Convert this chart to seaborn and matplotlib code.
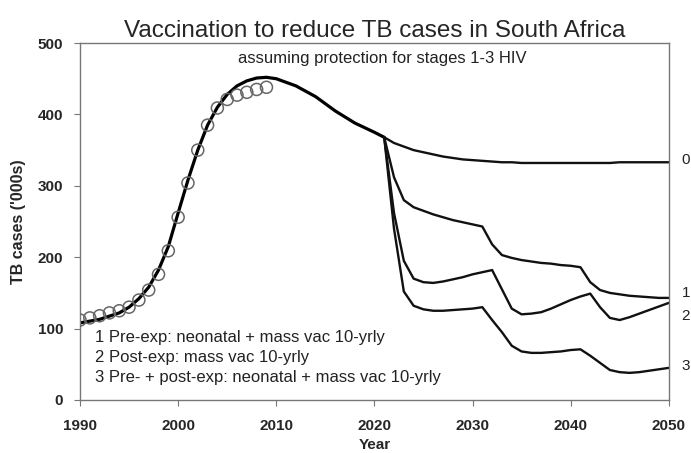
import numpy as np
import pandas as pd
import matplotlib
matplotlib.use('Agg')
import matplotlib.pyplot as plt
import seaborn as sns

# observed notifications (circles)
obs_years = list(range(1990, 2010))
obs_cases = [112, 115, 118, 122, 125, 130, 140, 154, 176, 209,
             256, 304, 350, 385, 409, 421, 427, 431, 435, 438]

# model fit up to the start of vaccination
fit_years = [1990, 1992, 1994, 1995, 1996, 1997, 1998, 1999, 2000, 2001, 2002,
             2003, 2004, 2005, 2006, 2007, 2008, 2009, 2010, 2012, 2014, 2016,
             2018, 2020, 2021]
fit_cases = [108, 113, 122, 130, 142, 158, 182, 215, 262, 308, 350,
             385, 410, 428, 440, 447, 451, 452, 450, 440, 425, 405,
             388, 375, 368]

# scenarios from 2021
scen_years = list(range(2021, 2051))
scen0 = [368, 360, 355, 350, 347, 344, 341, 339, 337, 336, 335, 334, 333, 333, 332,
         332, 332, 332, 332, 332, 332, 332, 332, 332, 333, 333, 333, 333, 333, 333]
scen1 = [368, 312, 280, 270, 265, 260, 256, 252, 249, 246, 243, 218, 203, 199, 196,
         194, 192, 191, 189, 188, 186, 165, 154, 150, 148, 146, 145, 144, 143, 143]
scen2 = [368, 262, 195, 170, 165, 164, 166, 169, 172, 176, 179, 182, 155, 128, 120,
         121, 123, 128, 134, 140, 145, 149, 130, 115, 112, 116, 121, 126, 131, 136]
scen3 = [368, 240, 152, 132, 127, 125, 125, 126, 127, 128, 130, 112, 95, 76, 68,
         66, 66, 67, 68, 70, 71, 62, 52, 42, 39, 38, 39, 41, 43, 45]

scen_labels = ['0', '1', '2', '3']
label_y = [336, 150, 118, 48]

legend_lines = ['1 Pre-exp: neonatal + mass vac 10-yrly',
                '2 Post-exp: mass vac 10-yrly',
                '3 Pre- + post-exp: neonatal + mass vac 10-yrly']
legend_y = [87, 59, 31]

sns.set_style('white')
plt.rcParams['font.family'] = ['Liberation Sans', 'DejaVu Sans']

fig = plt.figure(figsize=(6.91, 4.53), dpi=100)
ax = fig.add_axes([0.1158, 0.117, 0.852, 0.788])

fit = pd.DataFrame({'year': fit_years, 'cases': fit_cases})
sns.lineplot(data=fit, x='year', y='cases', color='black', lw=2.3, ax=ax)

scen = pd.DataFrame({'year': scen_years, '0': scen0, '1': scen1, '2': scen2, '3': scen3})
for s in scen_labels:
    sns.lineplot(data=scen, x='year', y=s, color='#111111', lw=1.7, ax=ax)

obs = pd.DataFrame({'year': obs_years, 'cases': obs_cases})
sns.scatterplot(data=obs, x='year', y='cases', s=75, facecolor='none',
                edgecolor='#666666', linewidth=1.1, ax=ax, zorder=5)

# scenario numbers just right of the frame
for lab, yy in zip(scen_labels, label_y):
    ax.text(2051.3, yy, lab, fontsize=11, va='center', ha='left', clip_on=False,
            color='#222222')

for t, yy in zip(legend_lines, legend_y):
    ax.text(1991.5, yy, t, fontsize=12, va='center', ha='left', color='#222222')

ax.text(2020.8, 479, 'assuming protection for stages 1-3 HIV', fontsize=12,
        ha='center', va='center', color='#222222')

ax.set_xlim(1990, 2050)
ax.set_ylim(0, 500)
ax.set_xticks(range(1990, 2051, 10))
ax.set_yticks(range(0, 501, 100))
for lbl in ax.get_xticklabels() + ax.get_yticklabels():
    lbl.set_fontweight('bold')
ax.tick_params(axis='both', labelsize=11, length=4, width=0.8, color='#777777',
               direction='out', left=True, bottom=True)
ax.tick_params(axis='x', pad=10)
ax.tick_params(axis='y', pad=8)
ax.set_xlabel('Year', fontsize=11, fontweight='bold', labelpad=3)
ax.set_ylabel("TB cases ('000s)", fontsize=11.5, fontweight='bold')
ax.yaxis.set_label_coords(-0.092, 0.5)
for sp in ax.spines.values():
    sp.set_color('#777777')
    sp.set_linewidth(1.0)
ax.set_title('Vaccination to reduce TB cases in South Africa', fontsize=17.5, pad=4)

fig.savefig('out.png', dpi=100)
